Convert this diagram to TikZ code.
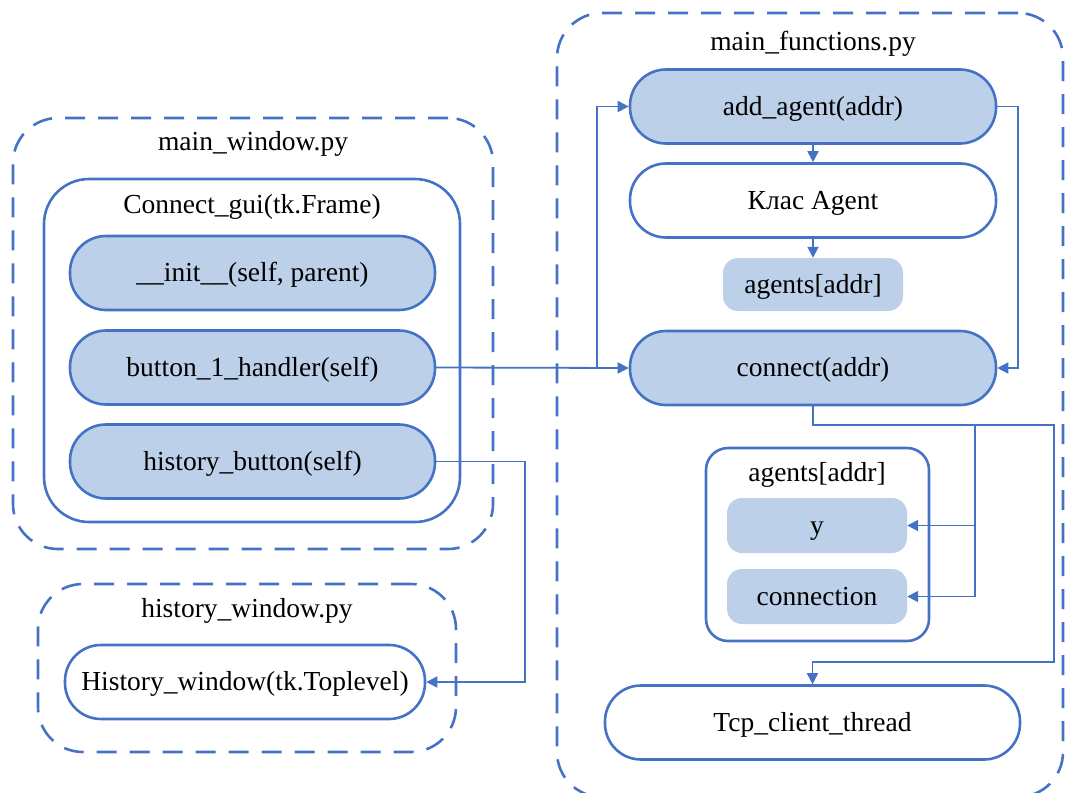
\documentclass[tikz,border=0pt]{standalone}
\usepackage{fontspec}
\setmainfont{Liberation Serif}
\usetikzlibrary{arrows.meta}
\definecolor{edge}{HTML}{4472C4}
\definecolor{pale}{HTML}{BDD0E9}
\tikzset{
  txt/.style={font=\fontsize{27.5}{32}\selectfont, text=black, text height=20pt, text depth=3pt},
  group/.style={draw=edge, line width=2.6pt, dash pattern=on 20pt off 13pt, rounded corners=45pt, inner sep=0pt},
  frame/.style={draw=edge, line width=2.6pt, inner sep=0pt},
  pill/.style={txt, draw=edge, line width=2.6pt, rounded corners=36pt, inner sep=0pt, minimum height=74pt},
  filled/.style={pill, fill=pale},
  tag/.style={txt, fill=pale, rounded corners=15pt, inner sep=0pt, minimum width=180pt},
  title/.style={txt, inner sep=0pt},
  conn/.style={draw=edge, line width=1.8pt, -{Triangle[length=11pt,width=11pt]}},
}
\begin{document}
\begin{tikzpicture}[x=1pt,y=-1pt]
\useasboundingbox (0,0) rectangle (1067,792);

% module outlines
\node[group, minimum width=480pt, minimum height=431pt] (mwin) at (253,333.5) {};
\node[group, minimum width=418pt, minimum height=168pt] (hwin) at (247,668) {};
\node[group, minimum width=506pt, minimum height=784pt] (mfun) at (810,405) {};
\node[title] at (253,142) {main\_window.py};
\node[title] at (247,609) {history\_window.py};
\node[title] at (813,42) {main\_functions.py};

% main_window.py
\node[frame, rounded corners=45pt, minimum width=416pt, minimum height=343pt] (gui) at (252,350.5) {};
\node[title] at (252,205) {Connect\_gui(tk.Frame)};
\node[filled, minimum width=365pt] (init) at (252.5,273) {\_\_init\_\_(self, parent)};
\node[filled, minimum width=365pt] (btn) at (252.5,367.5) {button\_1\_handler(self)};
\node[filled, minimum width=365pt] (hist) at (252.5,461.5) {history\_button(self)};

% history_window.py
\node[pill, minimum width=360pt] (hw) at (245,682) {History\_window(tk.Toplevel)};

% main_functions.py
\node[filled, minimum width=366pt] (add) at (813,106.5) {add\_agent(addr)};
\node[pill, minimum width=366pt] (klas) at (813,200.5) {Клас Agent};
\node[tag, minimum height=53pt] (ag) at (813,284.5) {agents[addr]};
\node[filled, minimum width=366pt] (con) at (813,368) {connect(addr)};
\node[frame, rounded corners=22pt, minimum width=223pt, minimum height=193pt] (agbox) at (817.5,544.5) {};
\node[title] at (817,473) {agents[addr]};
\node[tag, minimum height=55pt] (yv) at (817,525.5) {y};
\node[tag, minimum height=55pt] (cn) at (817,596.5) {connection};
\node[pill, minimum width=415pt] (tcp) at (812.5,722.5) {Tcp\_client\_thread};

% routing points
\coordinate (j1) at (597,367.5);
\coordinate (b1) at (975,425);
\coordinate (b2) at (1054,425);
\coordinate (b3) at (1054,662);
\coordinate (b4) at (525,682);

% connectors
\draw[conn] (btn.east) -- (con.west);
\draw[conn] (btn.east) -- (j1) |- (add.west);
\draw[conn] (add.south) -- (klas.north);
\draw[conn] (klas.south) -- (ag.north);
\draw[conn] (add.east) -- ++(21,0) |- (con.east);
\draw[conn] (con.south) |- (b1) |- (yv.east);
\draw[conn] (con.south) |- (b1) |- (cn.east);
\draw[conn] (con.south) |- (b2) -- (b3) -| (tcp.north);
\draw[conn] (hist.east) -| (b4) -- (hw.east);
\end{tikzpicture}
\end{document}
